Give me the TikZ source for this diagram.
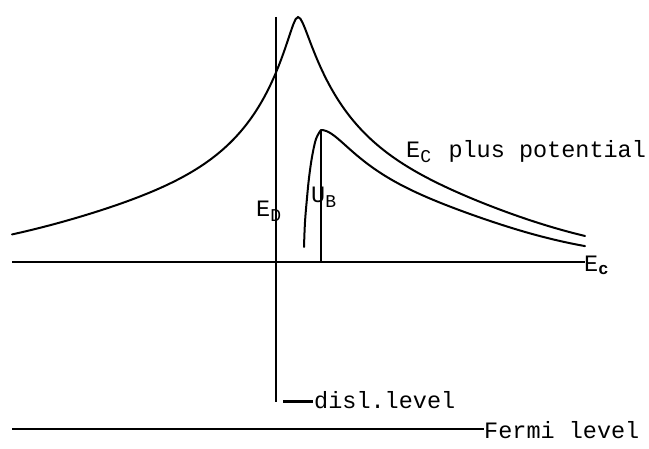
\documentclass[tikz,border=0pt]{standalone}
\usepackage{fontspec}
\setmonofont{Liberation Mono}
\newcommand\sbs[1]{\raisebox{-5pt}{\fontsize{18}{18}\selectfont #1}}
\begin{document}
\begin{tikzpicture}[x=1pt,y=-1pt,
  declare function={
    hl(\d)=14700/(10*sqrt((\d/10)*(\d/10)+0.25)+55)/(1+((\d/330)*(\d/330))^2);
    hr(\d)=14700/(10*sqrt(0.7744*(\d/10)*(\d/10)+0.25)+55)/(1+((\d/300)*(\d/300))^2);
    hi(\d)=132/(1+(10*sqrt((\d/10)*(\d/10)+3.61)-19)/91)/(1+((\d/250)*(\d/250))^2);
  },
  lbl/.style={font=\ttfamily\fontsize{23.5}{24}\selectfont, inner sep=0pt, anchor=base west},
  curve/.style={line width=2pt, line join=round, line cap=round},
  lvl/.style={line width=1.6pt},
  dislbar/.style={line width=3pt}]
\useasboundingbox (0,0) rectangle (649,449);
% outer curve: E_c plus potential
\draw[curve] plot[domain=-286:0, samples=120] ({298+\x},{262-hl(\x)})
  -- plot[domain=0:287, samples=120] ({298+\x},{262-hr(\x)});
% inner curve
\draw[curve] plot[smooth, tension=0.6] coordinates {
  (304,247) (305,222) (307,198) (309,178) (312,157) (316,139) (321,130)}
  -- plot[domain=0:264, samples=100] ({321+\x},{262-hi(\x)});
% coordinates
\coordinate (vTop) at (276,17);
\coordinate (vBot) at (276,402);
\coordinate (ecL) at (12,262);
\coordinate (ecR) at (585,262);
\coordinate (ubTop) at (321,130);
\coordinate (ubBot) at (321,262);
\coordinate (dlL) at (283,402);
\coordinate (dlR) at (313,402);
\coordinate (fL) at (12,429);
\coordinate (fR) at (484,429);
% lines
\draw[lvl] (vTop) -- (vBot);
\draw[lvl] (ecL) -- (ecR);
\draw[lvl] (ubTop) -- (ubBot);
\draw[dislbar] (dlL) -- (dlR);
\draw[lvl] (fL) -- (fR);
% labels
\node[lbl] (ED) at (256,217) {E\sbs{D}};
\node[lbl] (UB) at (311,203) {U\sbs{B}};
\node[lbl] (Ecp) at (406,158) {E\makebox[14.1pt][l]{\sbs{C}} plus potential};
\node[lbl] (Ec) at (584,272) {E\raisebox{-3pt}{\fontsize{17}{17}\selectfont\bfseries c}};
\node[lbl] (disl) at (314,409) {disl.level};
\node[lbl] (fermi) at (484,439) {Fermi level};
\end{tikzpicture}
\end{document}
